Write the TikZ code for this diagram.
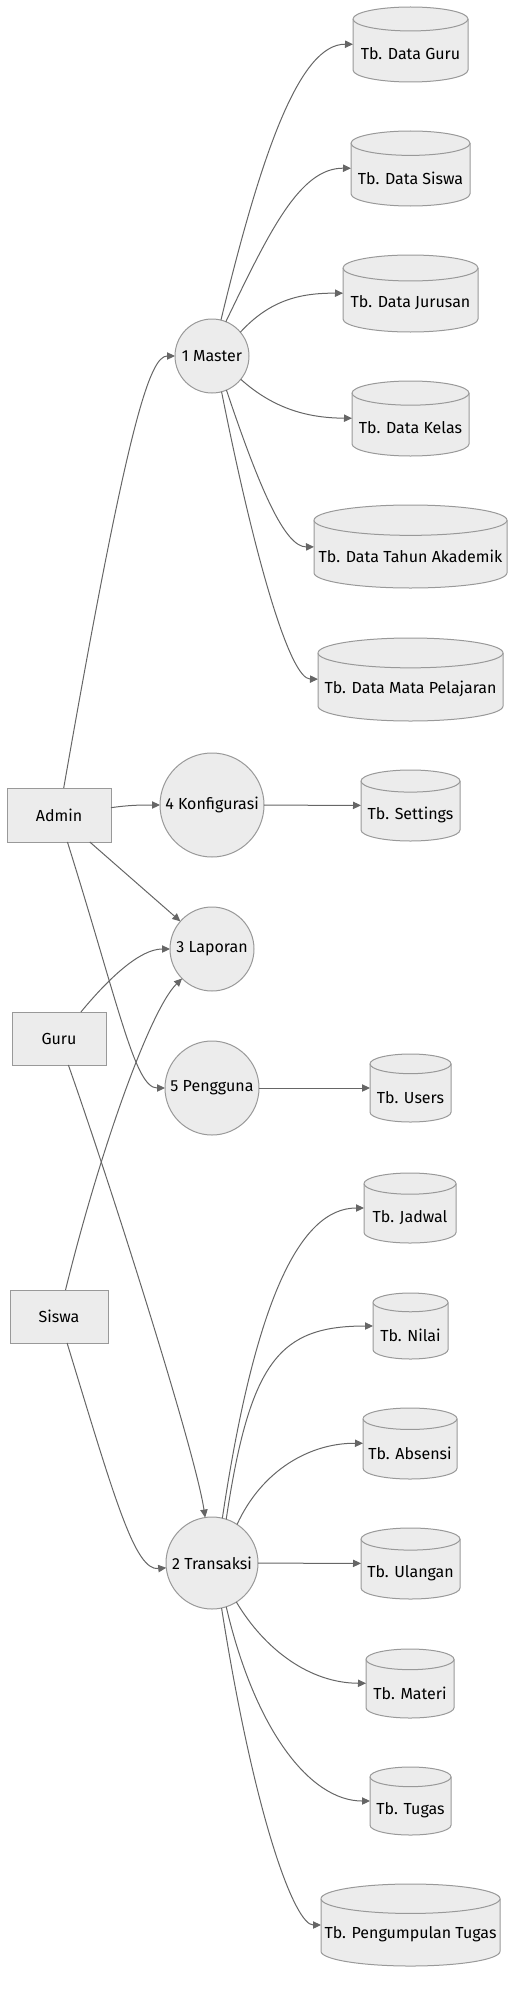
\documentclass[tikz,border=0pt]{standalone}
\usepackage{fontspec}
\setmainfont{Fira Sans}
\usepackage{tikz}
\usetikzlibrary{arrows.meta}

\definecolor{nodefill}{HTML}{ECECEC}
\definecolor{nodeline}{HTML}{999999}
\definecolor{flowline}{HTML}{666666}

% cylinder for a table: name, cx, cy, width, height, label
\newcommand{\tabel}[6]{%
  \pgfmathsetmacro\tbrx{#4/2}
  \pgfmathsetmacro\tbry{\tbrx/(2.5+#4/50)}
  \pgfmathsetmacro\tbyt{#3-#5/2+\tbry}
  \pgfmathsetmacro\tbyb{#3+#5/2-\tbry}
  \filldraw[tbl] (#2-\tbrx,\tbyt) -- (#2-\tbrx,\tbyb) arc[start angle=180,end angle=0,x radius=\tbrx,y radius=\tbry] -- (#2+\tbrx,\tbyt) arc[start angle=0,end angle=-180,x radius=\tbrx,y radius=\tbry] -- cycle;
  \draw[tbl] (#2-\tbrx,\tbyt) arc[start angle=180,end angle=0,x radius=\tbrx,y radius=\tbry];
  \node[tblbox,minimum width=#4*0.75pt,minimum height=#5*0.75pt] (#1) at (#2,#3) {};
  \node[txt] (#1-t) at (#2,#3+9.5) {#6};
}

\begin{document}
\begin{tikzpicture}[x=0.75pt,y=0.75pt,yscale=-1,xscale=1,
  proc/.style={circle,draw=nodeline,fill=nodefill,line width=0.75pt,inner sep=0pt,outer sep=0pt,font=\fontsize{12}{14}\selectfont},
  ent/.style={rectangle,draw=nodeline,fill=nodefill,line width=0.75pt,inner sep=0pt,outer sep=0pt,font=\fontsize{12}{14}\selectfont},
  tbl/.style={draw=nodeline,fill=nodefill,line width=0.75pt},
  tblbox/.style={rectangle,inner sep=0pt,outer sep=0pt},
  txt/.style={inner sep=0pt,font=\fontsize{12}{14}\selectfont},
  flow/.style={draw=flowline,line width=0.75pt,-{Triangle[length=6pt,width=5.5pt]}}]
\useasboundingbox (0,0) rectangle (525,2005);

%Shape: Rectangle [Admin, Guru, Siswa]
\node[ent,minimum width=78pt,minimum height=40.5pt] (admin) at (59,815) {Admin};
\node[ent,minimum width=70.5pt,minimum height=39.75pt] (guru) at (59,1038.5) {Guru};
\node[ent,minimum width=73.5pt,minimum height=39.75pt] (siswa) at (59,1316.5) {Siswa};

%Shape: Circle [processes]
\node[proc,minimum size=55.5pt] (master) at (212,356) {1 Master};
\node[proc,minimum size=78pt] (konf) at (212,805) {4 Konfigurasi};
\node[proc,minimum size=63pt] (lapor) at (212,949) {3 Laporan};
\node[proc,minimum size=70.5pt] (pengguna) at (212,1088) {5 Pengguna};
\node[proc,minimum size=69pt] (trans) at (212,1563) {2 Transaksi};

%Shape: Can [tables]
\tabel{tguru}{410.5}{44.5}{115}{75}{Tb. Data Guru}
\tabel{tsiswa}{410.5}{168.5}{119}{75}{Tb. Data Siswa}
\tabel{tjurusan}{410.5}{293.5}{135}{77}{Tb. Data Jurusan}
\tabel{tkelas}{410.5}{418.5}{117}{75}{Tb. Data Kelas}
\tabel{ttahun}{410.5}{546.5}{193}{83}{Tb. Data Tahun Akademik}
\tabel{tmapel}{410.5}{679.5}{185}{83}{Tb. Data Mata Pelajaran}
\tabel{tset}{410.5}{805.5}{99}{71}{Tb. Settings}
\tabel{tuser}{410.5}{1088}{81}{68}{Tb. Users}
\tabel{tjadwal}{410}{1208}{92}{70}{Tb. Jadwal}
\tabel{tnilai}{410.5}{1326}{75}{66}{Tb. Nilai}
\tabel{tabsen}{410}{1443.5}{94}{71}{Tb. Absensi}
\tabel{tulangan}{410.5}{1563.5}{99}{71}{Tb. Ulangan}
\tabel{tmateri}{410}{1683.5}{88}{69}{Tb. Materi}
\tabel{ttugas}{410.5}{1801}{81}{68}{Tb. Tugas}
\tabel{tkumpul}{410.5}{1925}{179}{82}{Tb. Pengumpulan Tugas}

%Curve Lines [Admin, Guru, Siswa]
\draw[flow] (admin) .. controls (128,420) and (150,356) .. (master);
\draw[flow] (admin) .. controls (130,805) and (140,805) .. (konf);
\draw[flow] (admin) -- (lapor);
\draw[flow] (admin) .. controls (120,1010) and (135,1088) .. (pengguna);
\draw[flow] (guru) .. controls (109,978) and (140,949) .. (lapor);
\draw[flow] (guru) .. controls (109,1180) and (195,1450) .. (trans);
\draw[flow] (siswa) .. controls (100,1150) and (150,1010) .. (lapor);
\draw[flow] (siswa) .. controls (115,1500) and (135,1571) .. (trans);

%Curve Lines [1 Master]
\draw[flow] (master.76) .. controls (262,150) and (300,44) .. (tguru);
\draw[flow] (master.68) .. controls (270,230) and (300,168) .. (tsiswa);
\draw[flow] (master.40) .. controls (270,300) and (300,293) .. (tjurusan);
\draw[flow] (master.-39) .. controls (275,410) and (310,418) .. (tkelas);
\draw[flow] (master.-67) .. controls (260,490) and (285,547) .. (ttahun);
\draw[flow] (master.-75) .. controls (255,560) and (290,679) .. (tmapel);

%Straight Lines
\draw[flow] (konf) -- (tset);
\draw[flow] (pengguna) -- (tuser);
\draw[flow] (trans) -- (tulangan);

%Curve Lines [2 Transaksi]
\draw[flow] (trans.77) .. controls (255,1300) and (300,1208) .. (tjadwal);
\draw[flow] (trans.72) .. controls (250,1360) and (280,1326) .. (tnilai);
\draw[flow] (trans.57) .. controls (262,1470) and (310,1443) .. (tabsen);
\draw[flow] (trans.-58) .. controls (265,1650) and (310,1683) .. (tmateri);
\draw[flow] (trans.-72) .. controls (255,1730) and (310,1801) .. (ttugas);
\draw[flow] (trans.-78) .. controls (255,1820) and (295,1925) .. (tkumpul);

\end{tikzpicture}
\end{document}
